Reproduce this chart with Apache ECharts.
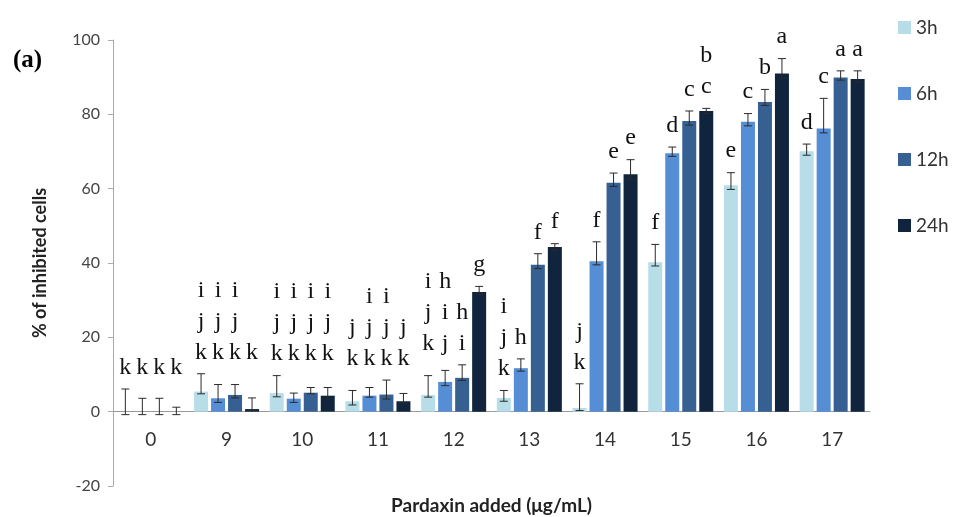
<!DOCTYPE html>
<html>
<head>
    <meta charset="utf-8" />
    <title>Pardaxin inhibition</title>
    <script src="https://cdn.jsdelivr.net/npm/echarts@6/dist/echarts.min.js"></script>
    <style type="text/css">
        html,
        body {
            width: 100%;
            height: 100%;
            margin: 0;
            background: #fff;
        }

        #main {
            width: 957px;
            height: 517px;
        }
    </style>
</head>
<body>
    <div id="main"></div>
    <script>
        // doses on the x axis
        var doses = ['0', '9', '10', '11', '12', '13', '14', '15', '16', '17'];
        var times = ['3h', '6h', '12h', '24h'];

        // bar heights (% of inhibited cells)
        var val3h = [0, 5.4, 5.0, 2.8, 4.5, 3.7, 1.0, 40.2, 60.9, 70.1];
        var val6h = [0, 3.6, 3.5, 4.3, 8.0, 11.7, 40.5, 69.5, 78.0, 76.2];
        var val12h = [0, 4.5, 5.1, 4.6, 9.1, 39.5, 61.6, 78.2, 83.3, 89.9];
        var val24h = [0, 0.7, 4.3, 2.8, 32.2, 44.3, 63.9, 80.9, 91.0, 89.5];

        // error bar ends
        var hi3h = [6.1, 10.2, 9.7, 5.7, 9.7, 5.7, 7.5, 45.0, 64.3, 72.0];
        var lo3h = [-0.8, 4.8, 4.0, 1.8, 3.9, 2.8, 0.3, 39.2, 59.8, 69.0];
        var hi6h = [3.6, 7.3, 5.0, 6.5, 11.1, 14.2, 45.7, 71.2, 80.2, 84.3];
        var lo6h = [-0.8, 2.5, 2.5, 3.9, 7.0, 10.9, 39.5, 68.7, 76.9, 75.0];
        var hi12h = [3.6, 7.3, 6.5, 8.5, 12.6, 42.5, 64.2, 80.9, 86.7, 91.7];
        var lo12h = [-0.8, 3.7, 4.8, 3.4, 8.4, 38.5, 60.6, 77.1, 82.4, 89.2];
        var hi24h = [1.2, 3.7, 6.5, 4.9, 33.7, 45.2, 67.8, 81.6, 95.0, 91.7];
        var lo24h = [-0.8, 0.3, 3.4, 2.2, 31.5, 43.4, 62.5, 80.2, 89.8, 88.6];

        // significance letters
        var let3h = ['k', 'i\nj\nk', 'i\nj\nk', 'j\nk', 'i\nj\nk', 'i\nj\nk', 'j\nk', 'f', 'e', 'd'];
        var let6h = ['k', 'i\nj\nk', 'i\nj\nk', 'i\nj\nk', 'h\ni\nj', 'h', 'f', 'd', 'c', 'c'];
        var let12h = ['k', 'i\nj\nk', 'i\nj\nk', 'i\nj\nk', 'h\ni', 'f', 'e', 'c', 'b', 'a'];
        var let24h = ['k', 'k', 'i\nj\nk', 'j\nk', 'g', 'f', 'e', 'b\nc', 'a', 'a'];

        var colors = ['#b7dee8', '#558ed5', '#376092', '#10243e'];
        var vals = [val3h, val6h, val12h, val24h];
        var his = [hi3h, hi6h, hi12h, hi24h];
        var los = [lo3h, lo6h, lo12h, lo24h];
        var lets = [let3h, let6h, let12h, let24h];

        var BAR_W = 14, PITCH = 17;
        var GRID_TOP = 40, GRID_BOTTOM = 31, Y_MIN = -20, Y_MAX = 100;
        // move the category axis up to the zero line
        var zeroOffset = -(517 - GRID_TOP - GRID_BOTTOM) * (0 - Y_MIN) / (Y_MAX - Y_MIN);

        // small bars in one group share one row of letters
        function labelLevel(s, i) {
            var h = his[s][i];
            if (h >= 13) return h;
            var m = h;
            for (var k = 0; k < 4; k++) {
                if (his[k][i] < 13 && his[k][i] > m) m = his[k][i];
            }
            return m;
        }

        var series = [];
        times.forEach(function (t, s) {
            series.push({
                name: t,
                type: 'bar',
                barWidth: BAR_W,
                barGap: (3 / BAR_W * 100) + '%',
                itemStyle: { color: colors[s] },
                data: vals[s]
            });
        });
        times.forEach(function (t, s) {
            var data = doses.map(function (d, i) {
                return [i, los[s][i], his[s][i], labelLevel(s, i), lets[s][i]];
            });
            series.push({
                type: 'custom',
                z: 5,
                encode: { x: 0, y: [1, 2] },
                data: data,
                renderItem: function (params, api) {
                    var x = api.coord([api.value(0), 0])[0] + (s - 1.5) * PITCH;
                    var yLo = api.coord([api.value(0), api.value(1)])[1];
                    var yHi = api.coord([api.value(0), api.value(2)])[1];
                    var yLab = api.coord([api.value(0), api.value(3)])[1];
                    var ls = { stroke: '#2a2a2a', lineWidth: 1 };
                    return {
                        type: 'group',
                        children: [
                            { type: 'line', shape: { x1: x, y1: yLo, x2: x, y2: yHi }, style: ls },
                            { type: 'line', shape: { x1: x - 4, y1: yHi, x2: x + 4, y2: yHi }, style: ls },
                            { type: 'line', shape: { x1: x - 4, y1: yLo, x2: x + 4, y2: yLo }, style: ls },
                            {
                                type: 'text',
                                style: {
                                    text: data[params.dataIndex][4],
                                    x: x,
                                    y: yLab - 6,
                                    align: 'center',
                                    verticalAlign: 'bottom',
                                    fontFamily: 'Liberation Serif',
                                    fontSize: 24,
                                    lineHeight: 31,
                                    fill: '#111'
                                }
                            }
                        ]
                    };
                }
            });
        });

        var myChart = echarts.init(document.getElementById('main'));
        var option = {
            animation: false,
            grid: { left: 113, right: 87, top: GRID_TOP, bottom: GRID_BOTTOM, outerBoundsMode: 'none', containLabel: false },
            legend: {
                data: times,
                orient: 'vertical',
                left: 893,
                top: 13,
                itemWidth: 13,
                itemHeight: 13,
                itemGap: 47,
                icon: 'rect',
                textStyle: { fontFamily: 'Lato', fontSize: 19, color: '#333' }
            },
            graphic: [{
                type: 'text',
                left: 13,
                top: 48,
                style: {
                    text: '(a)',
                    fontFamily: 'Liberation Serif',
                    fontWeight: 'bold',
                    fontSize: 25,
                    fill: '#000'
                }
            }],
            xAxis: {
                type: 'category',
                data: doses,
                position: 'bottom',
                offset: zeroOffset,
                name: 'Pardaxin added (μg/mL)',
                nameLocation: 'middle',
                nameGap: 85,
                nameTextStyle: { fontFamily: 'Lato', fontWeight: 'bold', fontSize: 19, color: '#222' },
                axisLine: { onZero: false, lineStyle: { color: '#999' } },
                axisTick: { length: 5, lineStyle: { color: '#999' } },
                axisLabel: { margin: 19, fontFamily: 'Lato', fontSize: 19, color: '#333' }
            },
            yAxis: {
                type: 'value',
                min: Y_MIN,
                max: Y_MAX,
                interval: 20,
                name: '% of inhibited cells',
                nameLocation: 'middle',
                nameGap: 64,
                nameTextStyle: { fontFamily: 'Lato', fontWeight: 'bold', fontSize: 18, color: '#222' },
                splitLine: { show: false },
                axisLine: { show: true, lineStyle: { color: '#aaa' } },
                axisTick: { show: true, length: 5, lineStyle: { color: '#aaa' } },
                axisLabel: { margin: 13, fontFamily: 'Lato', fontSize: 16, color: '#444' }
            },
            series: series
        };
        myChart.setOption(option);
    </script>
</body>
</html>
